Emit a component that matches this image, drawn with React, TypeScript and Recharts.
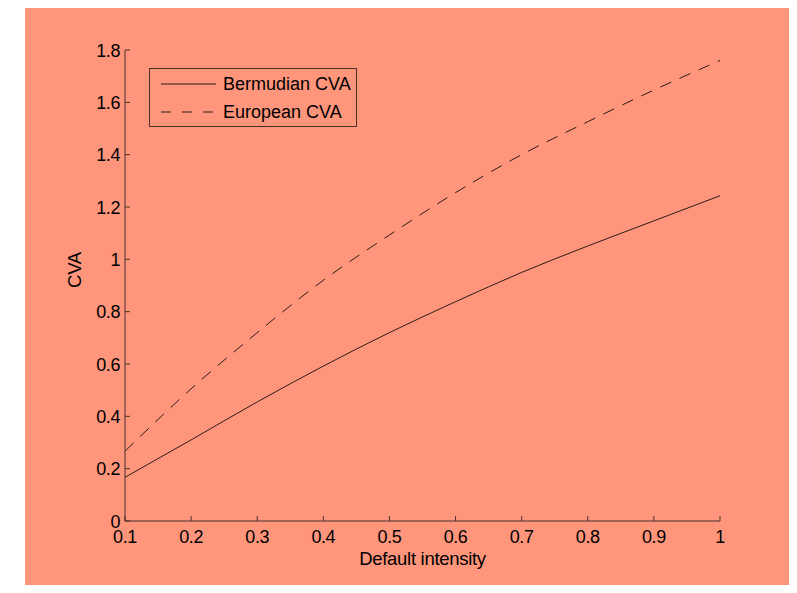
import React from "react";
import { LineChart, Line, XAxis, YAxis, Legend, Label } from "recharts";

const intensity = [0.1, 0.2, 0.3, 0.4, 0.5, 0.6, 0.7, 0.8, 0.9, 1.0];
const bermudianCva = [0.167, 0.31, 0.455, 0.592, 0.72, 0.838, 0.95, 1.051, 1.147, 1.243];
const europeanCva = [0.267, 0.505, 0.72, 0.92, 1.093, 1.255, 1.4, 1.526, 1.647, 1.76];

const xTicks = [0.1, 0.2, 0.3, 0.4, 0.5, 0.6, 0.7, 0.8, 0.9, 1];
const xTickLabels = ["0.1", "0.2", "0.3", "0.4", "0.5", "0.6", "0.7", "0.8", "0.9", "1"];
const yTicks = [0, 0.2, 0.4, 0.6, 0.8, 1, 1.2, 1.4, 1.6, 1.8];
const yTickLabels = ["0", "0.2", "0.4", "0.6", "0.8", "1", "1.2", "1.4", "1.6", "1.8"];

const seriesNames = ["Bermudian CVA", "European CVA"];

const BG = "#FF967C";
const AXIS = "#4a3028";
const INK = "#000000";
const FONT = '"Liberation Sans", Arial, Helvetica, sans-serif';

const data = intensity.map((x, i) => ({
  x,
  bermudian: bermudianCva[i],
  european: europeanCva[i],
}));

function labelFor(ticks: number[], labels: string[], v: number) {
  const i = ticks.findIndex((t) => Math.abs(t - v) < 1e-9);
  return i >= 0 ? labels[i] : String(v);
}

// ticks point inward, like the matlab figure
function BottomTick(props: any) {
  const { x, y, payload } = props;
  return (
    <g>
      <line x1={x} y1={y} x2={x} y2={y - 5} stroke={AXIS} />
      <text x={x} y={y + 22} textAnchor="middle" fontSize={18} letterSpacing={-0.4} fontFamily={FONT} fill={INK}>
        {labelFor(xTicks, xTickLabels, payload.value)}
      </text>
    </g>
  );
}

function TopTick(props: any) {
  const { x, y } = props;
  return <line x1={x} y1={y} x2={x} y2={y + 5} stroke={AXIS} />;
}

function LeftTick(props: any) {
  const { x, y, payload } = props;
  return (
    <g>
      <line x1={x} y1={y} x2={x + 5} y2={y} stroke={AXIS} />
      <text x={x - 5} y={y + 6.5} textAnchor="end" fontSize={18} letterSpacing={-0.4} fontFamily={FONT} fill={INK}>
        {labelFor(yTicks, yTickLabels, payload.value)}
      </text>
    </g>
  );
}

function RightTick(props: any) {
  const { x, y } = props;
  return <line x1={x} y1={y} x2={x - 5} y2={y} stroke={AXIS} />;
}

function LegendBox() {
  const row = (name: string, dash?: string) => (
    <div key={name} style={{ display: "flex", alignItems: "center", height: 28 }}>
      <svg width={58} height={10} style={{ marginLeft: 10 }}>
        <line x1={1} y1={5} x2={56} y2={5} stroke="#2b1d18" strokeWidth={1} strokeDasharray={dash} />
      </svg>
      <span style={{ marginLeft: 5, fontSize: 18, fontFamily: FONT, color: INK, lineHeight: "20px" }}>{name}</span>
    </div>
  );
  return (
    <div
      style={{
        width: 206,
        height: 56,
        border: `1px solid ${AXIS}`,
        paddingTop: 1,
        boxSizing: "content-box",
      }}
    >
      {row(seriesNames[0])}
      {row(seriesNames[1], "10 11")}
    </div>
  );
}

export default function App() {
  return (
    <div style={{ position: "relative", margin: -8, width: 797, height: 593, background: "#fff", overflow: "hidden" }}>
      <div style={{ position: "absolute", left: 25, top: 6, width: 767, height: 587, background: BG }}>
        <LineChart
          width={767}
          height={587}
          data={data}
          margin={{ top: 44, right: 72, bottom: 32, left: 40 }}
        >
          <XAxis
            dataKey="x"
            type="number"
            domain={[0.1, 1]}
            ticks={xTicks}
            interval={0}
            height={40}
            tickSize={0}
            tickMargin={0}
            tick={<BottomTick />}
            axisLine={{ stroke: AXIS }}
            tickLine={false}
          >
            <Label
              content={(p: any) => {
                const vb = p.viewBox;
                return (
                  <text
                    x={vb.x + vb.width / 2}
                    y={vb.y + 44}
                    textAnchor="middle"
                    fontSize={18.5}
                    letterSpacing={-0.3}
                    fontFamily={FONT}
                    fill={INK}
                  >
                    Default intensity
                  </text>
                );
              }}
            />
          </XAxis>
          <XAxis
            xAxisId="top"
            orientation="top"
            dataKey="x"
            type="number"
            domain={[0.1, 1]}
            ticks={xTicks}
            interval={0}
            height={0}
            tickSize={0}
            tickMargin={0}
            tick={<TopTick />}
            axisLine={{ stroke: AXIS }}
            tickLine={false}
          />
          <YAxis
            type="number"
            domain={[0, 1.8]}
            ticks={yTicks}
            interval={0}
            width={60}
            tickSize={0}
            tickMargin={0}
            tick={<LeftTick />}
            axisLine={{ stroke: AXIS }}
            tickLine={false}
          >
            <Label
              content={(p: any) => {
                const vb = p.viewBox;
                const cx = vb.x + vb.width - 44;
                const cy = vb.y + 220;
                return (
                  <text
                    x={cx}
                    y={cy}
                    transform={`rotate(-90 ${cx} ${cy})`}
                    textAnchor="middle"
                    fontSize={18.5}
                    letterSpacing={-0.3}
                    fontFamily={FONT}
                    fill={INK}
                  >
                    CVA
                  </text>
                );
              }}
            />
          </YAxis>
          <YAxis
            yAxisId="right"
            orientation="right"
            type="number"
            domain={[0, 1.8]}
            ticks={yTicks}
            interval={0}
            width={0}
            tickSize={0}
            tickMargin={0}
            tick={<RightTick />}
            axisLine={{ stroke: AXIS }}
            tickLine={false}
          />
          <Legend
            layout="vertical"
            align="center"
            verticalAlign="middle"
            content={() => <LegendBox />}
            wrapperStyle={{ left: 124, top: 62, width: 208 }}
          />
          <Line
            type="monotone"
            dataKey="bermudian"
            name={seriesNames[0]}
            stroke="#2b1d18"
            strokeWidth={1}
            dot={false}
            isAnimationActive={false}
          />
          <Line
            type="monotone"
            dataKey="european"
            name={seriesNames[1]}
            stroke="#2b1d18"
            strokeWidth={1}
            strokeDasharray="12 9"
            dot={false}
            isAnimationActive={false}
          />
        </LineChart>
      </div>
      <div style={{ position: "absolute", left: 25, top: 585, width: 767, height: 1, background: "#1a0a05" }} />
    </div>
  );
}
